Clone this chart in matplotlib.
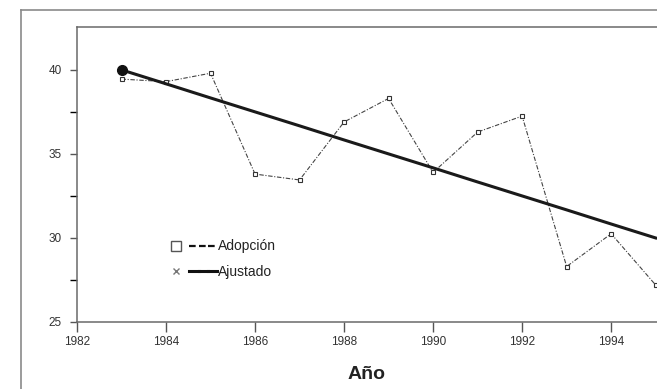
import matplotlib.pyplot as plt
from matplotlib.lines import Line2D
from matplotlib.legend_handler import HandlerTuple

plt.rcParams['font.family'] = ['Liberation Sans', 'DejaVu Sans']

years = [1983, 1984, 1985, 1986, 1987, 1988, 1989, 1990, 1991, 1992, 1993, 1994, 1995]
adopcion = [39.45, 39.3, 39.8, 33.8, 33.45, 36.9, 38.3, 33.9, 36.3, 37.25, 28.3, 30.25, 27.2]
ajustado = [40.0, 39.17, 38.33, 37.5, 36.67, 35.83, 35.0, 34.17, 33.33, 32.5, 31.67, 30.83, 30.0]
xticks = [1982, 1984, 1986, 1988, 1990, 1992, 1994]
yticks = [25, 30, 35, 40]

fig = plt.figure(figsize=(6.57, 3.89), dpi=100)
ax = fig.add_axes([77 / 657, 1 - 322 / 389, 1 - 77 / 657, 295 / 389])

# outer frame of the original figure (cropped on the right)
fig.add_artist(Line2D([21 / 657, 21 / 657], [0, 1 - 10 / 389], transform=fig.transFigure,
                      color='#8a8a8a', lw=1.2))
fig.add_artist(Line2D([21 / 657, 1], [1 - 10 / 389, 1 - 10 / 389], transform=fig.transFigure,
                      color='#8a8a8a', lw=1.2))

ax.plot(years, adopcion, color='#444444', lw=0.8, ls=(0, (4, 1.5, 1, 1.5)),
        marker='s', ms=3.5, mfc='white', mec='#333333', mew=0.8, zorder=2)
ax.plot(years, ajustado, color='#1a1a1a', lw=2.2, zorder=3)
ax.plot(years[:1], ajustado[:1], 'o', color='#111111', ms=7, zorder=4)

ax.set_xlim(1982, 1995.03)
ax.set_ylim(25, 42.55)
ax.set_xticks(xticks)
ax.set_yticks(yticks)
ax.set_yticks([27.5, 32.5, 37.5], minor=True)
ax.tick_params(axis='both', labelsize=8.5, colors='#555555', labelcolor='#333333',
               direction='out', width=1)
ax.tick_params(axis='x', length=7, pad=3)
ax.tick_params(axis='y', which='both', length=5, pad=6)
ax.tick_params(axis='y', which='minor', length=5, width=1)

for s in ['left', 'bottom', 'top']:
    ax.spines[s].set_color('#6a6a6a')
    ax.spines[s].set_linewidth(1.1)
ax.spines['right'].set_visible(False)

ax.set_xlabel('Año', fontsize=14, fontweight='bold', color='#222222', labelpad=13)

blank = Line2D([], [], ls='', marker='')
dash = Line2D([], [], color='#111111', ls=(0, (3, 2)), lw=1.6)
solid = Line2D([], [], color='#111111', lw=2.2)
h_adop = (Line2D([], [], ls='', marker='s', ms=6.5, mfc='white', mec='#555555', mew=1.0),
          blank, dash, dash, dash)
h_aj = (Line2D([], [], ls='', marker='x', ms=5, mec='#777777', mew=1.0),
        blank, solid, solid, solid)
leg = fig.legend([h_adop, h_aj], ['Adopción', 'Ajustado'],
                 handler_map={tuple: HandlerTuple(ndivide=None, pad=0)},
                 loc='center left', bbox_to_anchor=(171 / 657, 1 - 259 / 389),
                 frameon=False, fontsize=10, handlelength=3.3, handletextpad=0.05,
                 labelspacing=0.8, borderpad=0, borderaxespad=0)
for t in leg.get_texts():
    t.set_color('#222222')

fig.savefig('out.png', dpi=100)
